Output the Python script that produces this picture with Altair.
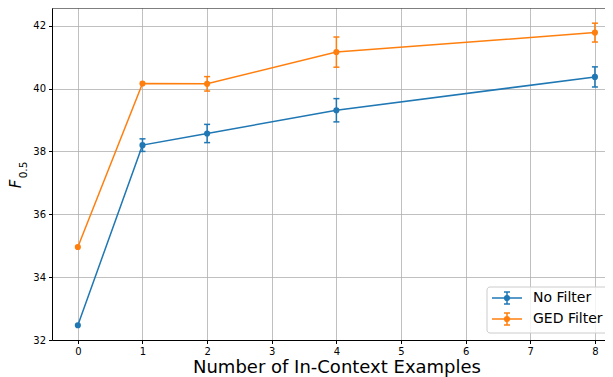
import altair as alt
import pandas as pd

# ---- data ----
examples = [0, 1, 2, 4, 8]
no_filter = [32.47, 38.20, 38.57, 39.31, 40.37]
no_filter_err = [0.0, 0.20, 0.29, 0.37, 0.32]
ged_filter = [34.96, 40.16, 40.15, 41.16, 41.78]
ged_filter_err = [0.0, 0.0, 0.23, 0.48, 0.30]
series_names = ["No Filter", "GED Filter"]
series_colors = ["#1f77b4", "#ff7f0e"]
x_ticks = [0, 1, 2, 3, 4, 5, 6, 7, 8]
y_ticks = [32, 34, 36, 38, 40, 42]
x_title = "Number of In-Context Examples"

rows = []
for name, vals, errs in [(series_names[0], no_filter, no_filter_err),
                         (series_names[1], ged_filter, ged_filter_err)]:
    for n, v, e in zip(examples, vals, errs):
        rows.append({"series": name, "n": n, "f": v, "lo": v - e, "hi": v + e, "err": e})
df = pd.DataFrame(rows)

W, H = 553, 332
FONT = "DejaVu Sans"
xs = alt.Scale(domain=[-0.4, 8.156], nice=False, zero=False)
ys = alt.Scale(domain=[32, 42.563], nice=False, zero=False)
cscale = alt.Scale(domain=series_names, range=series_colors)
COLOR = alt.Color("series:N", scale=cscale, legend=None)

X = alt.X("n:Q", scale=xs, axis=alt.Axis(values=x_ticks, title=x_title, format="d",
                                          titleX=284.5, titleY=32, titleBaseline="alphabetic",
                                          titleAlign="center", titleFontSize=18, titleFont=FONT,
                                          titleFontWeight="normal", titleColor="black"))
Y = alt.Y("f:Q", scale=ys, axis=alt.Axis(values=y_ticks, title=None, format="d"))

base = alt.Chart(df)
with_err = base.transform_filter("datum.err > 0")

bars = with_err.mark_rule(strokeWidth=1.5).encode(
    x=X, y=alt.Y("lo:Q", scale=ys), y2="hi:Q", color=COLOR)
cap_lo = with_err.mark_tick(orient="horizontal", size=6, thickness=1.5, opacity=1).encode(
    x=X, y=alt.Y("lo:Q", scale=ys), color=COLOR)
cap_hi = with_err.mark_tick(orient="horizontal", size=6, thickness=1.5, opacity=1).encode(
    x=X, y=alt.Y("hi:Q", scale=ys), color=COLOR)
lines = base.mark_line(strokeWidth=1.5).encode(x=X, y=Y, color=COLOR)
points = base.mark_point(size=38, filled=True, opacity=1).encode(x=X, y=Y, color=COLOR)

one = pd.DataFrame({"k": [0]})
top_border = alt.Chart(one).mark_rule(color="black", strokeWidth=1).encode(
    x=alt.value(0), x2=alt.value(W), y=alt.value(0))
ytitle_f = alt.Chart(one).mark_text(text="F", font=FONT, fontSize=15, fontStyle="italic",
                                    angle=270, align="center", baseline="alphabetic",
                                    color="black").encode(x=alt.value(-31), y=alt.value(176))
ytitle_sub = alt.Chart(one).mark_text(text="0.5", font=FONT, fontSize=10.5,
                                      angle=270, align="center", baseline="alphabetic",
                                      color="black").encode(x=alt.value(-25), y=alt.value(162))

# ---- legend (matplotlib style: line + error bar + marker) ----
legend_df = pd.DataFrame({"series": series_names})
LX = 435
legend_box = alt.Chart(one).mark_rect(fill="white", fillOpacity=0.8, stroke="#cccccc",
                                      strokeWidth=1, cornerRadius=3).encode(
    x=alt.value(LX), x2=alt.value(LX + 160), y=alt.value(279), y2=alt.value(325))
legend_layers = [legend_box]
for i, name in enumerate(series_names):
    yc = 290 + 21 * i
    ld = alt.Chart(legend_df).transform_filter(alt.datum.series == name)
    legend_layers += [
        ld.mark_rule(strokeWidth=1.5).encode(x=alt.value(LX + 5), x2=alt.value(LX + 35),
                                             y=alt.value(yc), color=COLOR),
        ld.mark_rule(strokeWidth=1.5).encode(x=alt.value(LX + 20), y=alt.value(yc - 6),
                                             y2=alt.value(yc + 6), color=COLOR),
        ld.mark_rule(strokeWidth=1.5).encode(x=alt.value(LX + 17), x2=alt.value(LX + 23),
                                             y=alt.value(yc - 6), color=COLOR),
        ld.mark_rule(strokeWidth=1.5).encode(x=alt.value(LX + 17), x2=alt.value(LX + 23),
                                             y=alt.value(yc + 6), color=COLOR),
        ld.mark_point(size=38, filled=True, opacity=1).encode(x=alt.value(LX + 20),
                                                              y=alt.value(yc), color=COLOR),
        ld.mark_text(align="left", baseline="middle", font=FONT, fontSize=14,
                     color="black").encode(x=alt.value(LX + 46), y=alt.value(yc),
                                           text="series:N"),
    ]

chart = alt.layer(bars, cap_lo, cap_hi, lines, points, top_border, ytitle_f, ytitle_sub,
                  *legend_layers).properties(
    width=W, height=H, autosize="none",
    padding={"left": 44, "top": 0, "right": 0, "bottom": 42},
).configure_view(stroke=None).configure_axis(
    domainColor="black", domainWidth=1, tickColor="black", tickSize=3.5, tickWidth=1,
    labelFont=FONT, labelFontSize=10, labelColor="black", labelPadding=3,
    gridColor="#b0b0b0", gridWidth=0.8, grid=True,
)

chart.save("out.html", embed_options={"renderer": "svg", "actions": False})
